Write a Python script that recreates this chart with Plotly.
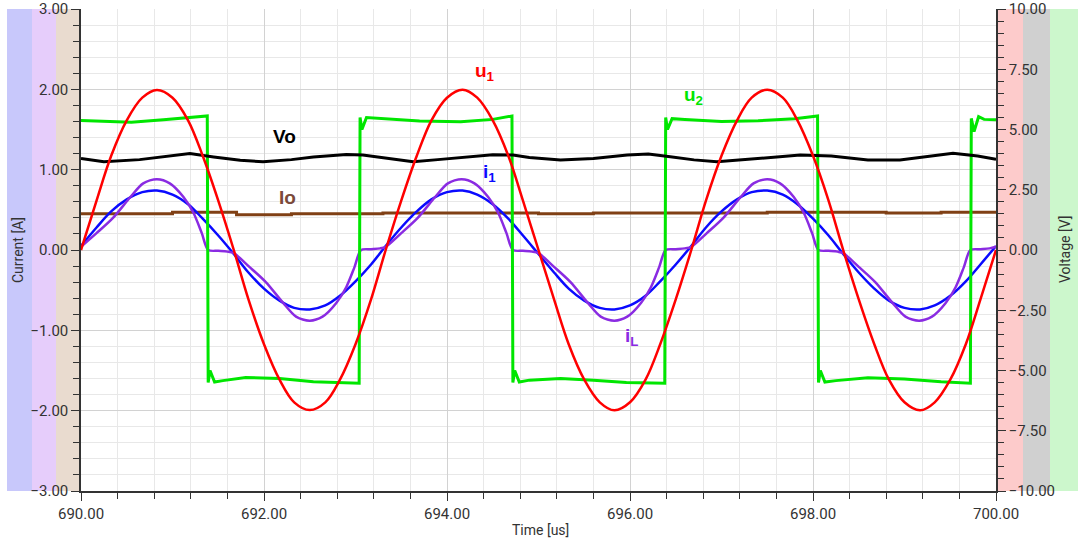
import plotly.graph_objects as go

# ---------------- data ----------------
# common time grid for u1 and i1 [us]
t_grid = [
    690.00, 690.17, 690.33, 690.50, 690.67, 690.83,
    691.00, 691.17, 691.33, 691.50, 691.67, 691.83,
    692.00, 692.17, 692.33, 692.50, 692.67, 692.83,
    693.00, 693.17, 693.33, 693.50, 693.67, 693.83,
    694.00, 694.17, 694.33, 694.50, 694.67, 694.83,
    695.00, 695.17, 695.33, 695.50, 695.67, 695.83,
    696.00, 696.17, 696.33, 696.50, 696.67, 696.83,
    697.00, 697.17, 697.33, 697.50, 697.67, 697.83,
    698.00, 698.17, 698.33, 698.50, 698.67, 698.83,
    699.00, 699.17, 699.33, 699.50, 699.67, 699.83,
    700.00,
]
# u1 [V]
u1 = [
    0.00, 2.05, 3.91, 5.38, 6.32, 6.64,
    6.32, 5.38, 3.91, 2.05, 0.00, -2.05,
    -3.91, -5.38, -6.32, -6.64, -6.32, -5.38,
    -3.91, -2.05, 0.00, 2.05, 3.91, 5.38,
    6.32, 6.65, 6.32, 5.38, 3.91, 2.05,
    0.00, -2.05, -3.91, -5.38, -6.32, -6.65,
    -6.32, -5.38, -3.91, -2.05, 0.00, 2.05,
    3.91, 5.38, 6.32, 6.65, 6.32, 5.38,
    3.91, 2.05, 0.00, -2.05, -3.91, -5.38,
    -6.32, -6.65, -6.32, -5.38, -3.91, -2.05,
    0.00,
]
# i1 [A]
i1 = [
    0.05, 0.28, 0.48, 0.63, 0.72, 0.74,
    0.69, 0.57, 0.39, 0.18, -0.05, -0.28,
    -0.48, -0.63, -0.72, -0.74, -0.69, -0.57,
    -0.39, -0.18, 0.05, 0.28, 0.48, 0.63,
    0.72, 0.74, 0.69, 0.57, 0.39, 0.18,
    -0.05, -0.28, -0.48, -0.63, -0.72, -0.74,
    -0.69, -0.57, -0.39, -0.18, 0.05, 0.28,
    0.48, 0.63, 0.72, 0.74, 0.69, 0.57,
    0.39, 0.18, -0.05, -0.28, -0.48, -0.63,
    -0.72, -0.74, -0.69, -0.57, -0.39, -0.18,
    0.05,
]
# iL [A]
t_iL = [
    690.00, 690.17, 690.35, 690.54, 690.68, 690.83, 690.97, 691.12, 691.23, 691.32, 691.39, 691.50, 691.60,
    691.67, 691.84, 692.02, 692.21, 692.35, 692.50, 692.64, 692.79, 692.90, 692.99, 693.06, 693.17, 693.27,
    693.33, 693.50, 693.68, 693.87, 694.01, 694.16, 694.30, 694.45, 694.56, 694.65, 694.72, 694.83, 694.93,
    695.00, 695.17, 695.35, 695.54, 695.68, 695.83, 695.97, 696.12, 696.23, 696.32, 696.39, 696.50, 696.60,
    696.67, 696.84, 697.02, 697.21, 697.35, 697.50, 697.64, 697.79, 697.90, 697.99, 698.06, 698.17, 698.27,
    698.33, 698.50, 698.68, 698.87, 699.01, 699.16, 699.30, 699.45, 699.56, 699.65, 699.72, 699.83, 699.93,
    700.00,
]
iL = [
    0.04, 0.21, 0.40, 0.66, 0.83, 0.88, 0.83, 0.66, 0.46, 0.21, 0.00, -0.01, -0.02,
    -0.04, -0.21, -0.40, -0.66, -0.83, -0.88, -0.83, -0.66, -0.46, -0.21, 0.00, 0.01, 0.02,
    0.04, 0.21, 0.40, 0.66, 0.83, 0.88, 0.83, 0.66, 0.46, 0.21, 0.00, -0.01, -0.02,
    -0.04, -0.21, -0.40, -0.66, -0.83, -0.88, -0.83, -0.66, -0.46, -0.21, 0.00, 0.01, 0.02,
    0.04, 0.21, 0.40, 0.66, 0.83, 0.88, 0.83, 0.66, 0.46, 0.21, 0.00, -0.01, -0.02,
    -0.04, -0.21, -0.40, -0.66, -0.83, -0.88, -0.83, -0.66, -0.46, -0.21, 0.00, 0.01, 0.02,
    0.04,
]
# u2 [V]
t_u2 = [
    690.00, 690.30, 690.55, 690.90, 691.20, 691.38,
    691.39, 691.41, 691.46, 691.55, 691.80, 692.17, 692.54, 693.04,
    693.05, 693.07, 693.12, 693.30, 693.70, 694.15, 694.50, 694.71,
    694.72, 694.74, 694.79, 694.90, 695.24, 695.60, 695.96, 696.38,
    696.39, 696.41, 696.46, 696.60, 697.00, 697.40, 697.80, 698.05,
    698.06, 698.08, 698.13, 698.25, 698.60, 699.00, 699.40, 699.72,
    699.73, 699.76, 699.81, 699.87, 700.00,
]
u2 = [
    5.37, 5.33, 5.30, 5.40, 5.50, 5.56,
    -5.50, -5.00, -5.48, -5.42, -5.29, -5.33, -5.47, -5.53,
    5.50, 5.00, 5.50, 5.45, 5.35, 5.32, 5.42, 5.56,
    -5.50, -5.00, -5.48, -5.40, -5.33, -5.40, -5.50, -5.53,
    5.50, 5.00, 5.45, 5.42, 5.33, 5.36, 5.45, 5.56,
    -5.50, -5.00, -5.48, -5.42, -5.30, -5.35, -5.47, -5.53,
    5.46, 4.91, 5.53, 5.42, 5.40,
]
# Vo [V]
t_vo = [
    690.00, 690.25, 690.64, 690.97, 691.19, 691.45, 691.74, 691.99, 692.30, 692.54,
    692.90, 693.08, 693.35, 693.63, 693.90, 694.17, 694.50, 694.72, 694.90, 695.24,
    695.60, 695.97, 696.20, 696.44, 696.70, 696.95, 697.42, 697.86, 698.20, 698.60,
    698.95, 699.25, 699.53, 699.80, 700.00,
]
vo = [
    3.80, 3.66, 3.75, 3.89, 4.00, 3.86, 3.72, 3.66, 3.75, 3.86,
    3.96, 3.94, 3.80, 3.66, 3.75, 3.84, 3.95, 3.94, 3.84, 3.73,
    3.80, 3.94, 3.98, 3.87, 3.74, 3.66, 3.80, 3.94, 3.90, 3.73,
    3.73, 3.87, 4.01, 3.90, 3.76,
]
# Io [A]
t_io = [690.00, 690.90, 691.00, 691.60, 691.70, 692.20, 692.30, 693.20, 693.30,
        694.50, 695.00, 695.60, 696.20, 697.00, 697.50, 698.20, 698.80, 699.40, 700.00]
io = [0.45, 0.45, 0.47, 0.47, 0.44, 0.44, 0.45, 0.45, 0.46,
      0.46, 0.45, 0.46, 0.46, 0.46, 0.47, 0.47, 0.46, 0.47, 0.47]

x_ticks = [690, 692, 694, 696, 698, 700]
yl_ticks = [-3, -2, -1, 0, 1, 2, 3]
yr_ticks = [-10, -7.5, -5, -2.5, 0, 2.5, 5, 7.5, 10]

# ---------------- figure ----------------
fig = go.Figure()
fig.add_trace(go.Scatter(x=t_u2, y=u2, yaxis="y2", mode="lines",
                         line=dict(color="#00e600", width=3), name="u2"))
fig.add_trace(go.Scatter(x=t_vo, y=vo, yaxis="y2", mode="lines",
                         line=dict(color="#000000", width=3), name="Vo"))
fig.add_trace(go.Scatter(x=t_io, y=io, mode="lines", line_shape="hv",
                         line=dict(color="#804015", width=3), name="Io"))
fig.add_trace(go.Scatter(x=t_grid, y=i1, mode="lines", line_shape="spline",
                         line=dict(color="#0a0aff", width=2.5), name="i1"))
fig.add_trace(go.Scatter(x=t_iL, y=iL, mode="lines", line_shape="spline",
                         line=dict(color="#8a2be2", width=2.5, smoothing=0.8), name="iL"))
fig.add_trace(go.Scatter(x=t_grid, y=u1, yaxis="y2", mode="lines", line_shape="spline",
                         line=dict(color="#ff0000", width=2.5), name="u1"))

W, H = 1081, 548
L, R, T, B = 81, 85, 9, 57
pw = W - L - R
ph = H - T - B

def px(xpix):
    return (xpix - L) / pw

band_specs = [
    (7, 32, "#c8c8fb"), (32, 56, "#e6cdfb"), (56, 81, "#e9dbcf"),
    (996, 1023, "#fdcbcb"), (1023, 1050, "#d0d0d0"), (1050, 1078, "#ccf7cc"),
]
shapes = []
for x0, x1, c in band_specs:
    shapes.append(dict(type="rect", xref="paper", yref="paper",
                       x0=px(x0), x1=px(x1), y0=0, y1=1,
                       fillcolor=c, line=dict(width=0), layer="below"))

tick_font = dict(family="Roboto, Arial, sans-serif", size=15, color="#333333")
title_font = dict(family="Roboto, Arial, sans-serif", size=14, color="#333333")

def lab(text, x, y, color, yref="y"):
    return dict(text=text, x=x, y=y, xref="x", yref=yref, showarrow=False,
                font=dict(family="Arial, Liberation Sans, sans-serif", size=19, color=color),
                xanchor="center", yanchor="middle")

annotations = [
    lab("<b>u<sub>1</sub></b>", 694.42, 2.21, "#ff0000"),
    lab("<b>u<sub>2</sub></b>", 696.69, 1.92, "#00e600"),
    lab("<b>Vo</b>", 692.22, 1.41, "#000000"),
    lab("<b>Io</b>", 692.26, 0.65, "#7b4a3a"),
    lab("<b>i<sub>1</sub></b>", 694.46, 0.96, "#0a0aff"),
    lab("<b>i<sub>L</sub></b>", 696.02, -1.08, "#8a2be2"),
    dict(text="Current [A]", xref="paper", yref="paper", x=px(18), y=0.5,
         xanchor="center", yanchor="middle",
         textangle=-90, showarrow=False, font=title_font),
    dict(text="Voltage [V]", xref="paper", yref="paper", x=px(1065), y=0.5,
         xanchor="center", yanchor="middle",
         textangle=-90, showarrow=False, font=title_font),
    dict(text="Time [us]", xref="paper", yref="paper", x=px(540), y=(H - B - 530) / ph,
         xanchor="center", yanchor="middle",
         showarrow=False, font=title_font),
]

fig.update_layout(
    width=W, height=H,
    margin=dict(l=L, r=R, t=T, b=B, pad=0, autoexpand=False),
    paper_bgcolor="white", plot_bgcolor="white",
    showlegend=False,
    shapes=shapes,
    annotations=annotations,
    xaxis=dict(range=[690, 700], tickvals=x_ticks, tickformat=".2f", automargin=False,
               showline=True, linecolor="#333333", linewidth=1.5,
               ticks="outside", ticklen=8, tickcolor="#333333", tickwidth=1.2,
               showgrid=True, gridcolor="#d2d2d2", gridwidth=1,
               zeroline=False, tickfont=tick_font,
               minor=dict(dtick=0.4, ticks="outside", ticklen=6, tickcolor="#333333",
                          showgrid=True, gridcolor="#e8e8e8", gridwidth=1)),
    yaxis=dict(range=[-3, 3], tickvals=yl_ticks, tickformat=".2f", automargin=False,
               showline=True, linecolor="#333333", linewidth=1.5,
               ticks="outside", ticklen=8, tickcolor="#333333", tickwidth=1.2,
               showgrid=True, gridcolor="#d2d2d2", gridwidth=1,
               zeroline=False, tickfont=tick_font,
               minor=dict(dtick=0.2, ticks="outside", ticklen=6, tickcolor="#333333",
                          showgrid=True, gridcolor="#e8e8e8", gridwidth=1)),
    yaxis2=dict(range=[-10, 10], tickvals=yr_ticks, tickformat=".2f", automargin=False,
                overlaying="y", side="right",
                showline=True, linecolor="#333333", linewidth=1.5,
                ticks="outside", ticklen=8, tickcolor="#333333", tickwidth=1.2,
                showgrid=False, zeroline=False, tickfont=tick_font,
                minor=dict(dtick=0.5, ticks="outside", ticklen=6, tickcolor="#333333",
                           showgrid=False)),
)

fig.write_html("out.html")
